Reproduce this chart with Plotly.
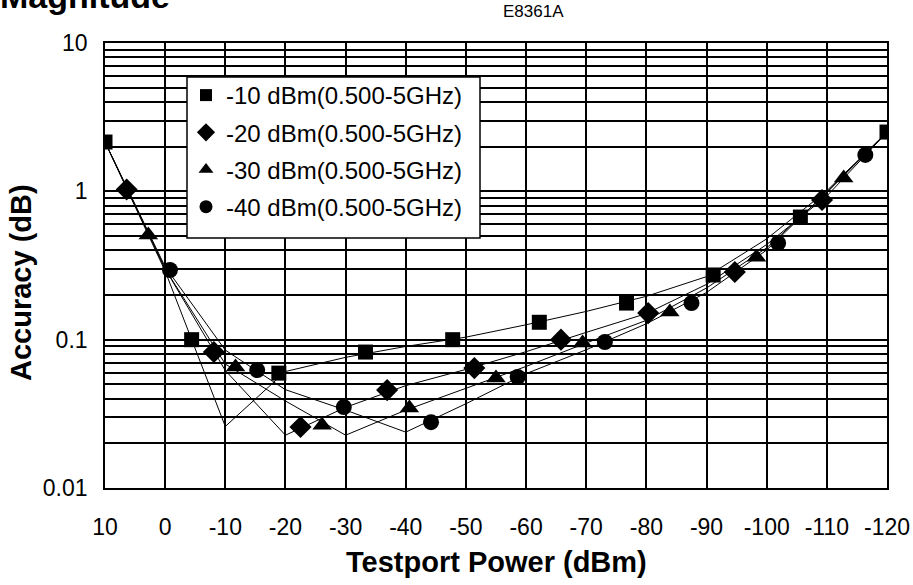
import plotly.graph_objects as go

# ---------------- data ----------------
X_GRID = [10, 0, -10, -20, -30, -40, -50, -60, -70, -80, -90, -100, -110, -120]

LINE_M10 = [2.15, 0.29, 0.026, 0.061, 0.076, 0.090, 0.104, 0.126, 0.155, 0.196, 0.266, 0.478, 1.01, 2.51]
LINE_M20 = [2.15, 0.30, 0.062, 0.0227, 0.035, 0.049, 0.063, 0.083, 0.112, 0.150, 0.236, 0.438, 0.93, 2.50]
LINE_M30 = [2.15, 0.30, 0.0685, 0.0386, 0.0227, 0.0335, 0.047, 0.066, 0.095, 0.135, 0.223, 0.416, 0.98, 2.50]
LINE_M40 = [2.15, 0.31, 0.085, 0.046, 0.0335, 0.0238, 0.037, 0.059, 0.0855, 0.128, 0.208, 0.402, 0.99, 2.50]

SQ_X = [10, -4.4, -18.9, -33.3, -47.8, -62.2, -76.7, -91.1, -105.6, -120]
SQ_Y = [2.15, 0.1, 0.0595, 0.0825, 0.1, 0.131, 0.1765, 0.273, 0.671, 2.51]
DI_X = [6.4, -8.1, -22.5, -36.9, -51.4, -65.8, -80.3, -94.7, -109.2]
DI_Y = [1.03, 0.0825, 0.0258, 0.0457, 0.0643, 0.1, 0.151, 0.286, 0.874]
TR_X = [2.8, -11.7, -26.1, -40.6, -55.0, -69.4, -83.9, -98.3, -112.8]
TR_Y = [0.507, 0.0653, 0.0265, 0.0346, 0.0551, 0.0948, 0.1535, 0.36, 1.23]
CI_X = [-0.8, -15.3, -29.7, -44.2, -58.6, -73.1, -87.5, -101.9, -116.4]
CI_Y = [0.295, 0.0624, 0.0351, 0.0278, 0.056, 0.0964, 0.1765, 0.448, 1.76]

SERIES_NAMES = ["-10 dBm(0.500-5GHz)", "-20 dBm(0.500-5GHz)",
                "-30 dBm(0.500-5GHz)", "-40 dBm(0.500-5GHz)"]

X_TICKS = [10, 0, -10, -20, -30, -40, -50, -60, -70, -80, -90, -100, -110, -120]
X_TICK_TEXT = ["10", "0", "-10", "-20", "-30", "-40", "-50", "-60", "-70", "-80",
               "-90", "-100", "-110", "-120"]
Y_TICKS = [0.01, 0.1, 1, 10]
Y_TICK_TEXT = ["0.01", "0.1", "1", "10"]

# ---------------- figure ----------------
FONT = "Arial, 'Liberation Sans', sans-serif"
W, H = 913, 585
L, R, T, B = 105, 26, 43, 97
PW, PH = W - L - R, H - T - B


def px_x(p):
    return (p - L) / PW


def px_y(p):
    return (H - B - p) / PH


fig = go.Figure()

lines = [LINE_M10, LINE_M20, LINE_M30, LINE_M40]
for ys in lines:
    fig.add_trace(go.Scatter(x=X_GRID, y=ys, mode="lines",
                             line=dict(color="black", width=1),
                             showlegend=False, hoverinfo="skip"))

marker_sets = [
    (SQ_X, SQ_Y, "square", 15, 12),
    (DI_X, DI_Y, "diamond", 17, 14),
    (TR_X, TR_Y, "triangle-up", 17, 13),
    (CI_X, CI_Y, "circle", 16, 13),
]
for i, (xs, ys, sym, size, lsize) in enumerate(marker_sets):
    fig.add_trace(go.Scatter(x=xs, y=ys, mode="markers",
                             marker=dict(symbol=sym, size=size, color="black",
                                         line=dict(width=0)),
                             showlegend=False))
    fig.add_trace(go.Scatter(x=[None], y=[None], mode="markers", name=SERIES_NAMES[i],
                             legendgroup="g%d" % i,
                             marker=dict(symbol=sym, size=lsize, color="black",
                                         line=dict(width=0))))

grid_w = 1.6
fig.update_xaxes(range=[10, -120], tickmode="array", tickvals=X_TICKS, ticktext=X_TICK_TEXT,
                 showgrid=True, gridcolor="black", gridwidth=grid_w,
                 showline=True, linecolor="black", linewidth=grid_w, mirror=True,
                 zeroline=False, ticks="", ticklabelstandoff=18, automargin=False,
                 tickfont=dict(family=FONT, size=23, color="black"))
fig.update_yaxes(type="log", range=[-2, 1], tickmode="array", tickvals=Y_TICKS,
                 ticktext=Y_TICK_TEXT,
                 showgrid=True, gridcolor="black", gridwidth=grid_w,
                 minor=dict(tickmode="linear", dtick="D1", showgrid=True,
                            gridcolor="black", gridwidth=grid_w, ticks=""),
                 showline=True, linecolor="black", linewidth=grid_w, mirror=True,
                 zeroline=False, ticks="", ticklabelstandoff=11, automargin=False,
                 tickfont=dict(family=FONT, size=23, color="black"))

# legend box
fig.add_shape(type="rect", xref="paper", yref="paper",
              x0=px_x(187), x1=px_x(480), y0=px_y(238), y1=px_y(77),
              fillcolor="white", line=dict(color="black", width=1.5), layer="above")

fig.update_layout(
    width=W, height=H, autosize=False,
    margin=dict(l=L, r=R, t=T, b=B, pad=0),
    paper_bgcolor="white", plot_bgcolor="white",
    font=dict(family=FONT, color="black"),
    showlegend=True,
    legend=dict(x=px_x(186), y=px_y(73), xanchor="left", yanchor="top",
                bgcolor="rgba(0,0,0,0)", borderwidth=0,
                font=dict(family=FONT, size=24, color="black"),
                tracegroupgap=3, traceorder="grouped"),
    annotations=[
        dict(text="E8361A", xref="paper", yref="paper", x=px_x(533), y=px_y(12),
             xanchor="center", yanchor="middle", showarrow=False,
             font=dict(family=FONT, size=17, color="black")),
        dict(text="<b>Magnitude</b>", xref="paper", yref="paper", x=px_x(-2), y=px_y(17),
             xanchor="left", yanchor="bottom", showarrow=False,
             font=dict(family=FONT, size=34, color="black")),
        dict(text="<b>Accuracy (dB)</b>", xref="paper", yref="paper", x=px_x(21), y=px_y(283),
             xanchor="center", yanchor="middle", textangle=-90, showarrow=False,
             font=dict(family=FONT, size=29, color="black")),
        dict(text="<b>Testport Power (dBm)</b>", xref="paper", yref="paper", x=0.5, y=px_y(562),
             xanchor="center", yanchor="middle", showarrow=False,
             font=dict(family=FONT, size=29, color="black")),
    ],
)

fig.write_html("out.html", config={"displayModeBar": False},
               post_script="document.body.style.margin='0';")
